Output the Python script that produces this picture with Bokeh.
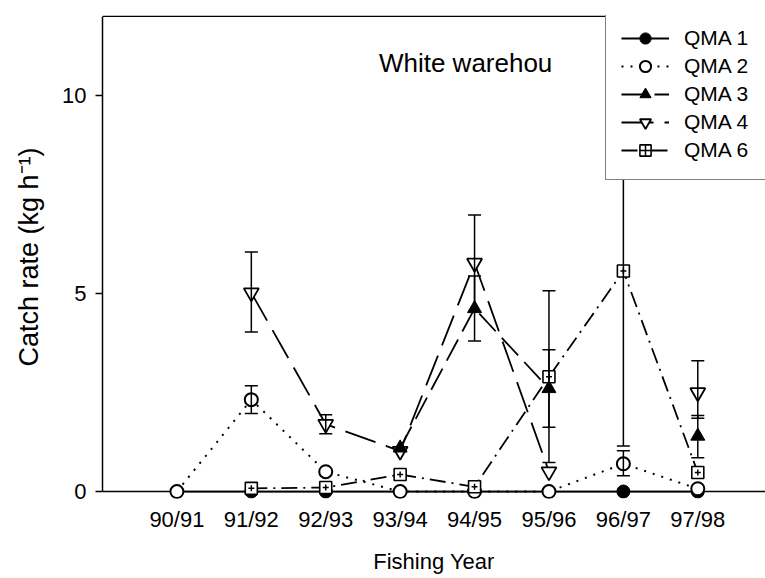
from bokeh.plotting import figure
from bokeh.models import (Range1d, Span, Label, Whisker, ColumnDataSource, Legend,
                          LegendItem, FixedTicker, TeeHead)
from bokeh.embed import file_html
from bokeh.resources import INLINE

nan = float("nan")

# ---- data ----
years = ["90/91", "91/92", "92/93", "93/94", "94/95", "95/96", "96/97", "97/98"]
qma1 = [0, 0, 0, 0, 0, 0, 0, 0]
qma2 = [0, 2.32, 0.5, 0, 0, 0, 0.7, 0.07]
qma3 = [nan, nan, nan, 1.1, 4.62, 2.6, nan, 1.4]
qma4 = [nan, 5.02, 1.7, 1.02, 5.77, 0.5, nan, 2.5]
qma6 = [nan, 0.08, 0.1, 0.43, 0.12, 2.9, 5.57, 0.48]

qma2_err_years = ["91/92", "96/97"]
qma2_err_lo = [1.97, 0.4]
qma2_err_hi = [2.67, 1.03]
qma3_err_years = ["94/95", "95/96", "97/98"]
qma3_err_lo = [3.8, 1.62, 0.85]
qma3_err_hi = [5.44, 3.58, 1.92]
qma4_err_years = ["91/92", "92/93", "94/95", "97/98"]
qma4_err_lo = [4.03, 1.46, 4.55, 1.85]
qma4_err_hi = [6.05, 1.94, 6.98, 3.3]
qma6_err_years = ["95/96", "96/97"]
qma6_err_lo = [0.73, 1.15]
qma6_err_hi = [5.07, 9.95]

y_ticks = [0, 5, 10]
title_text = "White warehou"
x_label = "Fishing Year"
y_label = "Catch rate (kg h\u207b\u00b9)"

FONT = "Liberation Sans"
xpos = list(range(len(years)))

p = figure(width=765, height=578, output_backend="svg", toolbar_location=None,
           x_range=Range1d(-1, 7.91), y_range=Range1d(-0.176, 12.02),
           min_border_left=102, min_border_right=0, min_border_top=15, min_border_bottom=80)
p.outline_line_color = None
p.grid.visible = False
p.background_fill_color = "white"
p.border_fill_color = "white"

# x axis
xa = p.xaxis[0]
xa.ticker = FixedTicker(ticks=xpos)
xa.major_label_overrides = {i: y for i, y in enumerate(years)}
xa.axis_line_color = None
xa.major_tick_line_color = None
xa.minor_tick_line_color = None
xa.major_label_standoff = 2
xa.major_label_text_font = FONT
xa.major_label_text_font_size = "22px"
xa.major_label_text_color = "black"
xa.axis_label = x_label
xa.axis_label_text_font = FONT
xa.axis_label_text_font_size = "22px"
xa.axis_label_text_font_style = "normal"
xa.axis_label_text_color = "black"
xa.axis_label_standoff = 14

# y axis
ya = p.yaxis[0]
ya.ticker = FixedTicker(ticks=y_ticks)
ya.bounds = (0, 12)
ya.axis_line_width = 1.5
ya.axis_line_color = "black"
ya.major_tick_out = 7
ya.major_tick_in = 0
ya.major_tick_line_width = 1.5
ya.minor_tick_line_color = None
ya.major_label_standoff = 9
ya.major_label_text_font = FONT
ya.major_label_text_font_size = "22px"
ya.major_label_text_color = "black"
ya.axis_label = y_label
ya.axis_label_text_font = FONT
ya.axis_label_text_font_size = "27px"
ya.axis_label_text_font_style = "normal"
ya.axis_label_text_color = "black"
ya.axis_label_standoff = 15

# baseline at y=0 and top border
p.add_layout(Span(location=0, dimension="width", line_color="black", line_width=1.5, level="underlay"))
p.add_layout(Span(location=12, dimension="width", line_color="black", line_width=1.5, level="underlay"))

LW = 1.8
# QMA 1
l1 = p.line(xpos, qma1, line_color="black", line_width=LW)
s1 = p.scatter(xpos, qma1, marker="circle", size=13, fill_color="black", line_color="black")
# QMA 2
l2 = p.line(xpos, qma2, line_color="black", line_width=2, line_dash="2 7")
s2 = p.scatter(xpos, qma2, marker="circle", size=13, fill_color="white", line_color="black", line_width=2)
# QMA 4
l4 = p.line(xpos, qma4, line_color="black", line_width=LW, line_dash="32 11")
s4 = p.scatter(xpos, qma4, marker="inverted_triangle", size=15, fill_color="white", line_color="black", line_width=1.8)
# QMA 3
l3 = p.line(xpos, qma3, line_color="black", line_width=LW, line_dash="24 9")
s3 = p.scatter(xpos, qma3, marker="triangle", size=14, fill_color="black", line_color="black")
# QMA 6
l6 = p.line(xpos, qma6, line_color="black", line_width=LW, line_dash="16 6 2 6")
s6 = p.scatter(xpos, qma6, marker="square", size=12, fill_color="white", line_color="black", line_width=1.6)
c6 = p.scatter(xpos, qma6, marker="cross", size=6, line_color="black", line_width=1.5)


def add_err(err_years, lo, hi):
    src = ColumnDataSource(dict(x=[years.index(y) for y in err_years], lo=lo, hi=hi))
    w = Whisker(source=src, base="x", lower="lo", upper="hi", dimension="height",
                line_color="black", line_width=1.5, level="annotation",
                upper_head=TeeHead(size=13, line_width=1.5, line_color="black"),
                lower_head=TeeHead(size=13, line_width=1.5, line_color="black"))
    p.add_layout(w)


add_err(qma2_err_years, qma2_err_lo, qma2_err_hi)
add_err(qma3_err_years, qma3_err_lo, qma3_err_hi)
add_err(qma4_err_years, qma4_err_lo, qma4_err_hi)
add_err(qma6_err_years, qma6_err_lo, qma6_err_hi)

p.add_layout(Label(x=3.88, y=10.81, text=title_text, text_font=FONT, text_font_size="26px",
                   text_align="center", text_baseline="middle", text_color="black"))

legend = Legend(items=[
    LegendItem(label="QMA 1", renderers=[l1, s1]),
    LegendItem(label="QMA 2", renderers=[l2, s2]),
    LegendItem(label="QMA 3", renderers=[l3, s3]),
    LegendItem(label="QMA 4", renderers=[l4, s4]),
    LegendItem(label="QMA 6", renderers=[l6, s6, c6]),
], location=(503, 318), orientation="vertical")
legend.label_text_font = FONT
legend.label_text_font_size = "21px"
legend.label_text_color = "black"
legend.glyph_width = 48
legend.glyph_height = 28
legend.label_height = 28
legend.label_width = 90
legend.label_standoff = 15
legend.spacing = 0
legend.padding = 15
legend.margin = 0
legend.border_line_color = "black"
legend.border_line_width = 1.5
legend.background_fill_color = "white"
legend.background_fill_alpha = 1.0
p.add_layout(legend)

open("out.html", "w").write(file_html(p, INLINE))
